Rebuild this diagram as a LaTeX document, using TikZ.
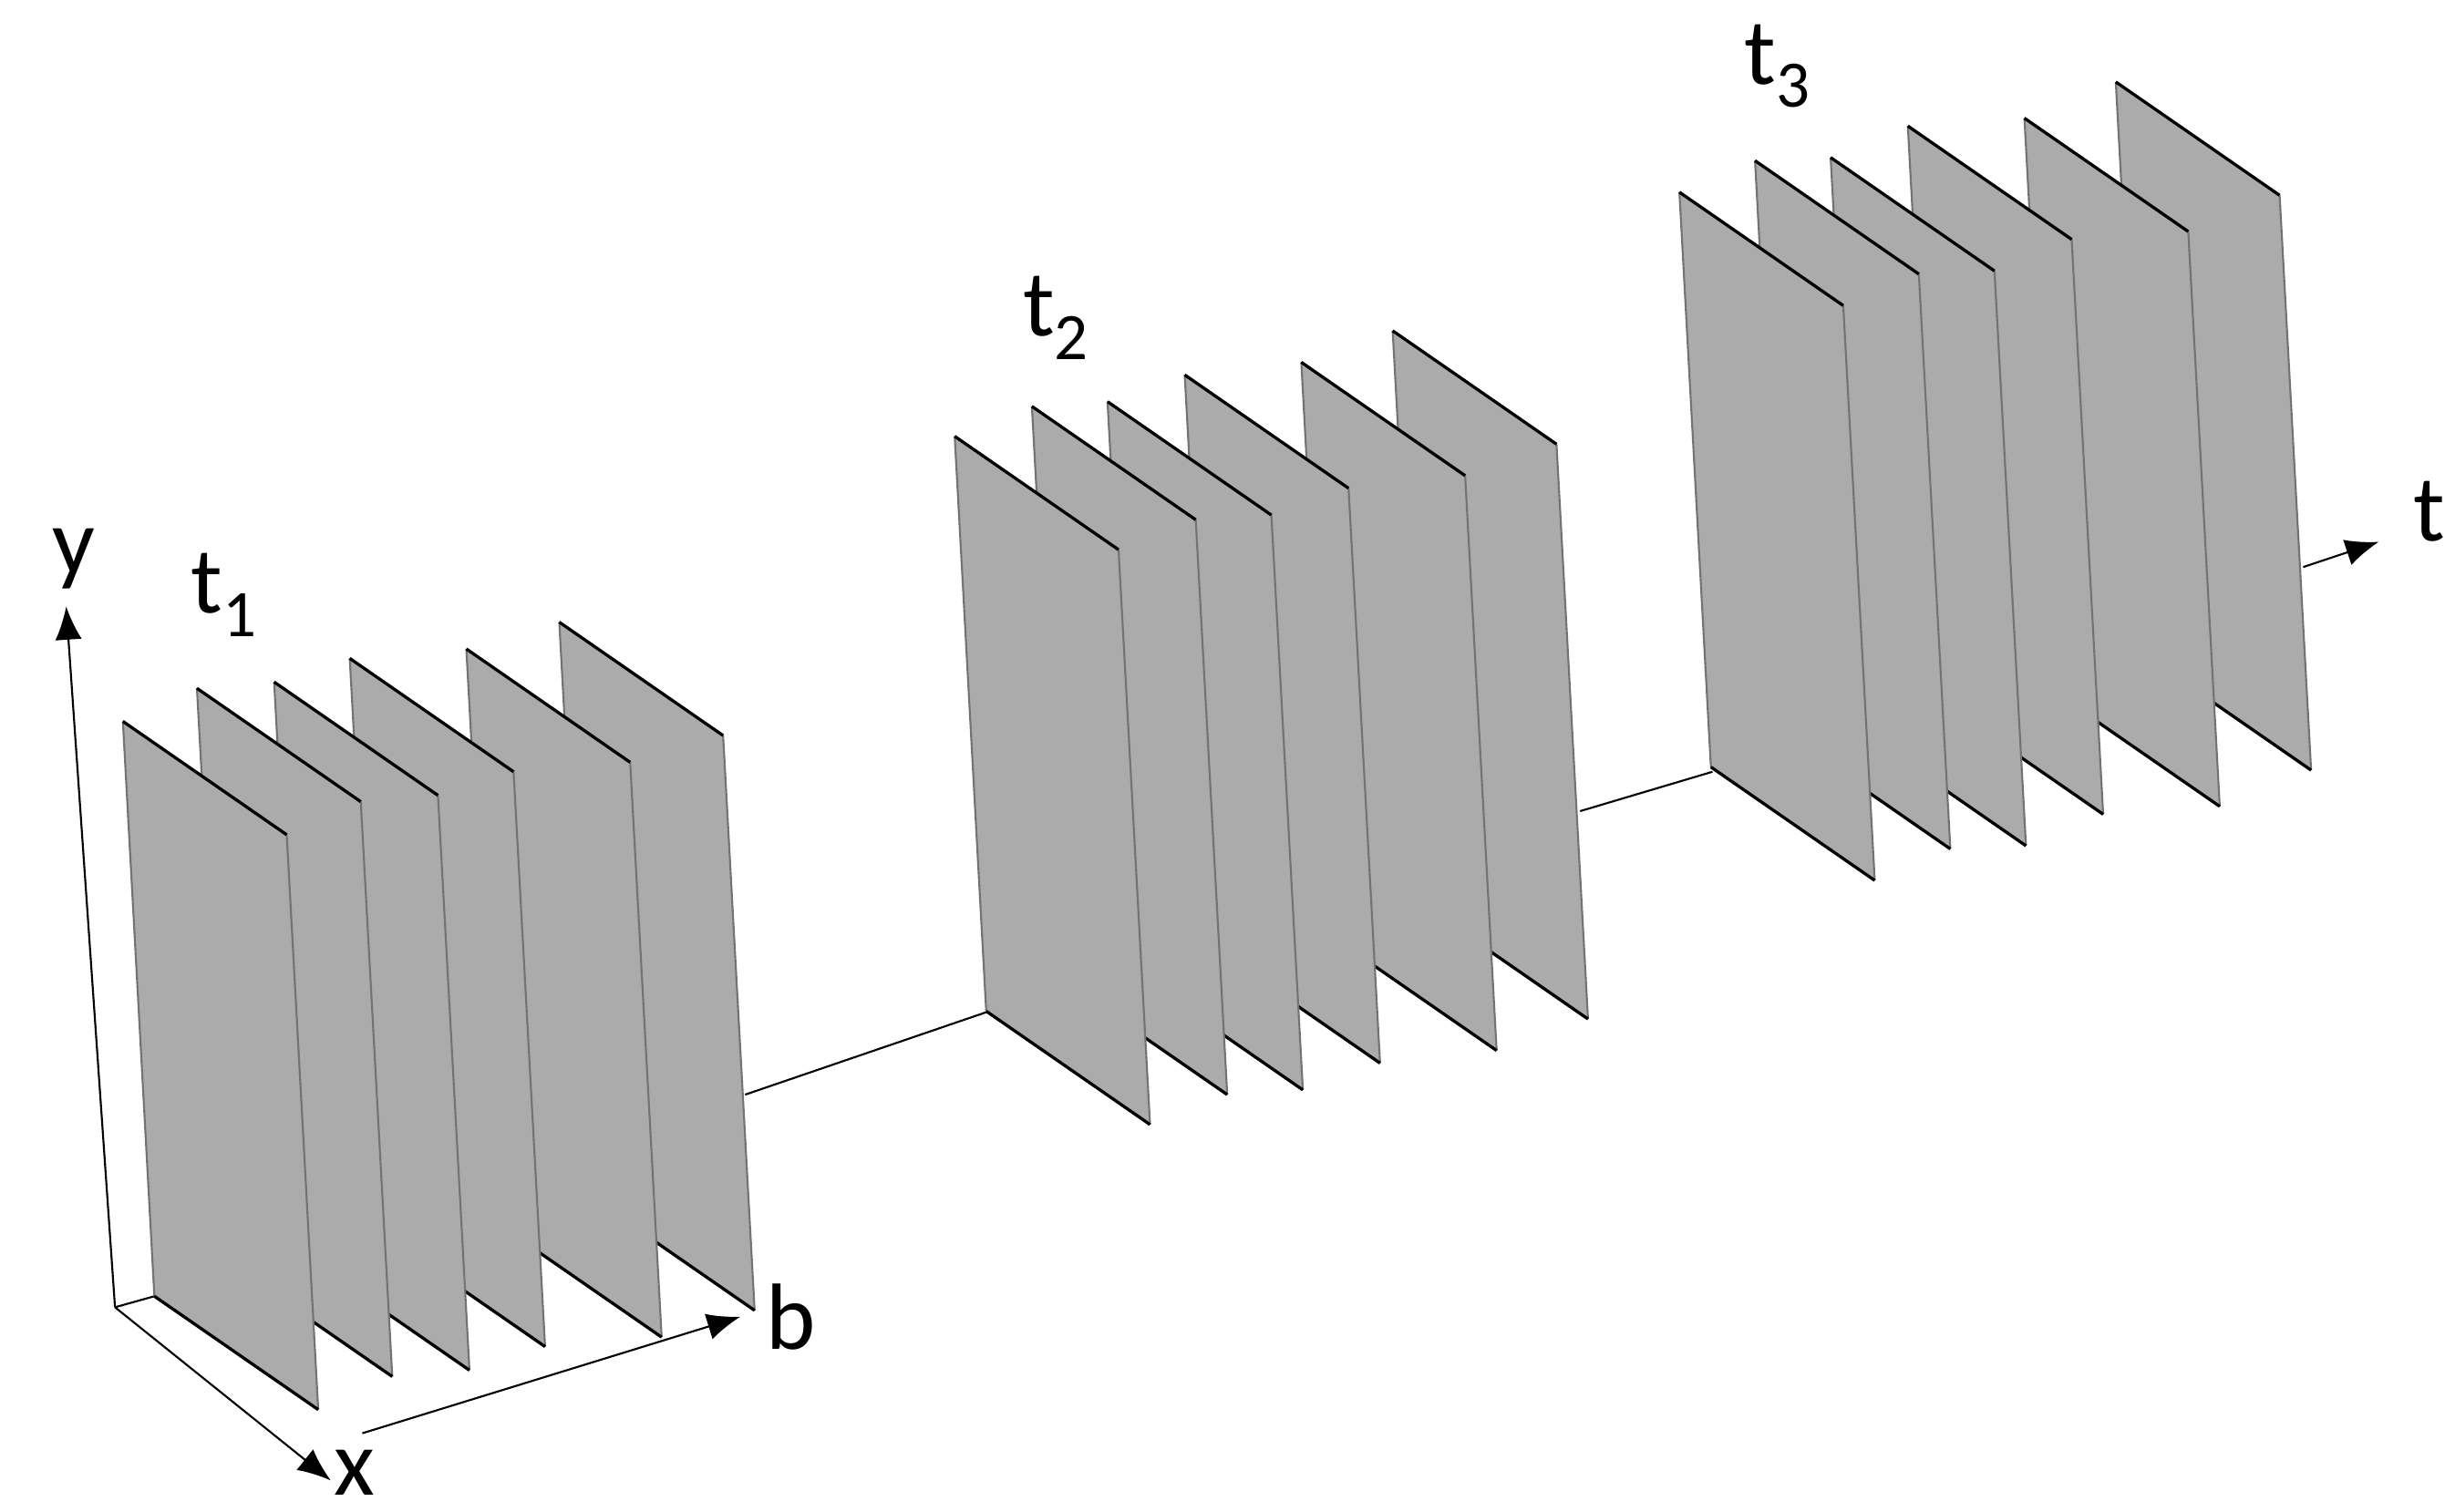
\documentclass[tikz,border=0pt]{standalone}
\usepackage{fontspec}
\setmainfont{Carlito}
\usetikzlibrary{arrows.meta}
\begin{document}
\begin{tikzpicture}[x=0.01cm,y=-0.01cm,
  plate/.style={fill=black!33,draw=none},
  edge/.style={draw=black,line width=0.55pt},
  side/.style={draw=black!55,line width=0.35pt},
  axis/.style={draw=black,line width=0.35pt},
  arr/.style={axis,-{Latex[length=6pt,width=4.8pt]}},
  lbl/.style={font=\fontsize{17}{20}\selectfont,inner sep=0pt}]
\useasboundingbox (0,0) rectangle (1552,960);
\newcommand{\plate}[2]{%
  \fill[plate] (#1,#2) -- ++(104,72) -- ++(20,365) -- ++(-104,-72) -- cycle;
  \draw[side] (#1,#2) -- ++(20,365);
  \draw[side] (#1+104,#2+72) -- ++(20,365);
  \draw[edge] (#1,#2) -- ++(104,72);
  \draw[edge] (#1+20,#2+365) -- ++(104,72);}
\newcommand{\sbs}[1]{\raisebox{-0.25em}{\fontsize{12}{14}\selectfont #1}}
% connectors
\coordinate (o) at (73,830);
\coordinate (g1end) at (473,695);
\coordinate (g2start) at (628,642);
\coordinate (g2end) at (1003,515);
\coordinate (g3start) at (1087,490);
\coordinate (tstart) at (1462,360);
\coordinate (tend) at (1510,344);
\draw[axis] (g1end) -- (g2start);
\draw[axis] (g2end) -- (g3start);
\draw[axis] (o) -- (98,823);
% group 1
\foreach \x/\y in {355/395,296/412,222/418,174/433,125/437,78/458}{\plate{\x}{\y}}
% group 2
\foreach \x/\y in {884/210,826/230,752/238,703/255,655/258,606/277}{\plate{\x}{\y}}
% group 3
\foreach \x/\y in {1343/52,1285/75,1211/80,1162/100,1114/102,1066/122}{\plate{\x}{\y}}
% axes
\coordinate (ytip) at (42,385);
\coordinate (xtip) at (210,940);
\coordinate (bstart) at (230,910);
\coordinate (btip) at (470,836);
\draw[arr] (o) -- (ytip);
\draw[arr] (o) -- (xtip);
\draw[arr] (bstart) -- (btip);
\draw[arr] (tstart) -- (tend);
\node[lbl] (ly) at (47,355) {y};
\node[lbl] (lx) at (225,935) {x};
\node[lbl] (lb) at (502,836) {b};
\node[lbl] (lt) at (1542,325) {t};
\node[lbl] (t1) at (142,378) {t\sbs{1}};
\node[lbl] (t2) at (670,202) {t\sbs{2}};
\node[lbl] (t3) at (1128,42) {t\sbs{3}};
\end{tikzpicture}
\end{document}
